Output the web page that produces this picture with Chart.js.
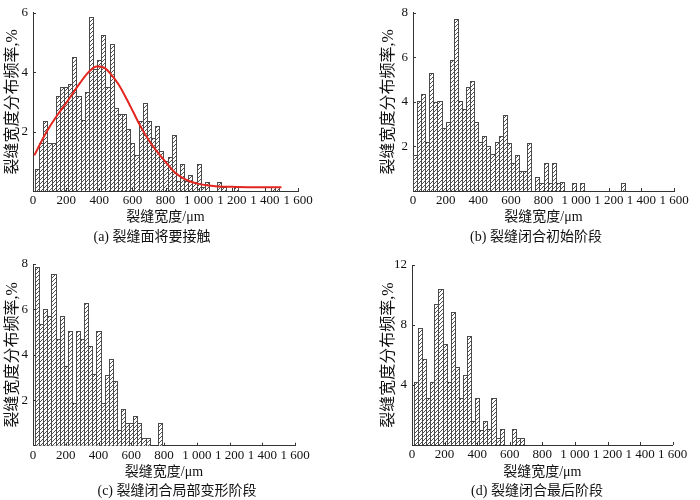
<!DOCTYPE html>
<html>
<head>
<meta charset="utf-8">
<script src="https://cdn.jsdelivr.net/npm/chart.js@4.4.1/dist/chart.umd.min.js"></script>
<style>
  body { margin: 0; background: #fff; }
  #wrap { position: relative; width: 700px; height: 500px; }
  canvas { position: absolute; }
</style>
</head>
<body>
<div id="wrap">
  <canvas id="chartA" width="350" height="250" style="left:0;top:0"></canvas>
  <canvas id="chartB" width="350" height="250" style="left:350px;top:0"></canvas>
  <canvas id="chartC" width="350" height="250" style="left:0;top:250px"></canvas>
  <canvas id="chartD" width="350" height="250" style="left:350px;top:250px"></canvas>
</div>
<script>
// histogram bins are 25 µm wide
const binWidth = 25;

// (a) 裂缝面将要接触, first bin centred at 25 µm
const firstBinA = 25;
const freqA = [0.75, 1.6, 2.35, 1.6, 1.6, 3.2, 3.5, 3.5, 3.6, 4.5,
               3.2, 2.4, 3.35, 5.85, 4.1, 4.4, 5.25, 3.5, 4.95, 2.8,
               2.6, 2.6, 2.1, 1.6, 1.2, 2.35, 2.95, 2.35, 1.8, 2.2,
               1.35, 1.0, 1.15, 1.9, 0.35, 0.9, 0.35, 0.55, 0.3, 0.9,
               0.15, 0.3, 0, 0, 0.3, 0.15, 0, 0, 0.15, 0,
               0, 0, 0, 0, 0, 0, 0, 0.15, 0.15];
// red fitted curve of (a)
const fitX = [8, 83, 140, 203, 284, 335, 385, 430, 465, 515, 566, 606, 646,
              700, 747, 800, 857, 900, 950, 1000, 1050, 1100, 1200, 1300, 1400, 1500];
const fitY = [1.2, 2.0, 2.5, 2.98, 3.64, 4.0, 4.19, 4.15, 3.97, 3.6, 3.09, 2.65, 2.21,
              1.7, 1.34, 0.98, 0.62, 0.45, 0.32, 0.24, 0.19, 0.16, 0.14, 0.13, 0.13, 0.13];

// (b) 裂缝闭合初始阶段
const firstBinB = 12.5;
const freqB = [1.6, 4.05, 4.35, 2.2, 5.3, 4.0, 4.05, 2.85, 3.1, 5.9,
               7.7, 4.05, 3.7, 4.65, 4.95, 3.1, 2.2, 2.45, 2.0, 1.65,
               2.2, 2.45, 3.4, 2.15, 1.25, 1.6, 0.9, 0.9, 2.15, 0,
               0.65, 0.35, 1.25, 0.35, 1.25, 0.35, 0.4, 0, 0, 0.35,
               0, 0.35, 0, 0, 0, 0, 0, 0, 0, 0,
               0, 0.35];

// (c) 裂缝闭合局部变形阶段
const firstBinC = 25;
const freqC = [7.85, 5.35, 6.0, 5.7, 7.55, 4.7, 5.7, 3.5, 5.05, 1.9,
               5.05, 4.7, 6.3, 4.4, 3.15, 5.05, 1.9, 3.1, 3.8, 2.85,
               0.67, 1.6, 1.0, 1.0, 1.3, 1.0, 0.35, 0.35, 0, 0,
               1.0];

// (d) 裂缝闭合最后阶段
const firstBinD = 25;
const freqD = [4.2, 7.8, 5.7, 3.15, 4.2, 9.4, 10.4, 6.75, 4.2, 8.85,
               5.2, 3.15, 4.7, 7.25, 1.6, 3.15, 1.0, 1.6, 1.05, 3.15,
               0.5, 1.05, 0, 0, 1.05, 0.5, 0.5];

const xTitle = '裂缝宽度/μm';
const yTitle = '裂缝宽度分布频率,%';

const serif = "'Liberation Serif', 'Noto Sans CJK SC', serif";
const ink = '#111';

// diagonal hatch used to fill the bars
const hatch = (function () {
  const c = document.createElement('canvas');
  c.width = 4; c.height = 4;
  const g = c.getContext('2d');
  g.fillStyle = '#fff';
  g.fillRect(0, 0, 4, 4);
  g.strokeStyle = '#3c3c3c';
  g.lineWidth = 0.9;
  g.beginPath();
  g.moveTo(-1, 5); g.lineTo(5, -1);
  g.moveTo(-1, 1); g.lineTo(1, -1);
  g.moveTo(3, 5); g.lineTo(5, 3);
  g.stroke();
  return g.createPattern(c, 'repeat');
})();

// "1 000" style tick labels
function formatTick(v) {
  if (v >= 1000) return Math.floor(v / 1000) + ' ' + String(v % 1000).padStart(3, '0');
  return String(v);
}

// put each bar on whole pixels so neighbours share one crisp edge
const snapBars = {
  id: 'snapBars',
  beforeDatasetsDraw(chart) {
    const xs = chart.scales.x;
    chart.getSortedVisibleDatasetMetas().forEach(meta => {
      if (meta.type !== 'bar') return;
      const pts = chart.data.datasets[meta.index].data;
      meta.data.forEach((bar, i) => {
        const l = Math.round(xs.getPixelForValue(pts[i].x - binWidth / 2));
        const r = Math.round(xs.getPixelForValue(pts[i].x + binWidth / 2)) + 1;
        bar.x = (l + r) / 2;
        bar.width = r - l;
        bar.y = Math.round(bar.y);
        bar.base = Math.round(bar.base);
      });
    });
  }
};

// little tick marks pointing into the plot
const innerTicks = {
  id: 'innerTicks',
  afterDraw(chart) {
    const {ctx, chartArea, scales} = chart;
    ctx.save();
    ctx.strokeStyle = '#333';
    ctx.lineWidth = 1;
    ctx.beginPath();
    scales.x.ticks.forEach(t => {
      if (t.value === 0) return;
      const px = Math.round(scales.x.getPixelForValue(t.value)) + 0.5;
      ctx.moveTo(px, chartArea.bottom);
      ctx.lineTo(px, chartArea.bottom - 3);
    });
    scales.y.ticks.forEach(t => {
      if (t.value === 0) return;
      const py = Math.round(scales.y.getPixelForValue(t.value)) + 0.5;
      ctx.moveTo(chartArea.left, py);
      ctx.lineTo(chartArea.left + 3, py);
    });
    ctx.stroke();
    ctx.restore();
  }
};

// sub-figure caption under each panel
const caption = {
  id: 'caption',
  afterDraw(chart, args, opts) {
    const ctx = chart.ctx;
    ctx.save();
    ctx.font = '14px ' + serif;
    ctx.fillStyle = ink;
    ctx.textAlign = 'center';
    ctx.textBaseline = 'middle';
    ctx.fillText(opts.text, opts.x, opts.y);
    ctx.restore();
  }
};

function makePanel(id, cfg) {
  const datasets = [{
    type: 'bar',
    data: cfg.freq.map((v, i) => ({x: cfg.firstBin + i * binWidth, y: v})),
    backgroundColor: hatch,
    borderColor: '#4a4a4a',
    borderWidth: 1,
    inflateAmount: 0,
    barPercentage: 1.24,
    categoryPercentage: 1,
    order: 2
  }];
  if (cfg.fitX) {
    datasets.push({
      type: 'line',
      data: cfg.fitX.map((x, i) => ({x: x, y: cfg.fitY[i]})),
      borderColor: '#e3261f',
      borderWidth: 2,
      pointRadius: 0,
      tension: 0.4,
      cubicInterpolationMode: 'monotone',
      order: 1
    });
  }

  return new Chart(document.getElementById(id), {
    type: 'bar',
    data: {datasets: datasets},
    plugins: [snapBars, innerTicks, caption],
    options: {
      responsive: false,
      animation: false,
      events: [],
      layout: {padding: cfg.padding},
      plugins: {
        legend: {display: false},
        tooltip: {enabled: false},
        caption: {text: cfg.caption, x: cfg.capX, y: cfg.capY}
      },
      scales: {
        x: {
          type: 'linear',
          min: 0, max: 1600,
          offset: false,
          grid: {display: false, drawTicks: false, offset: false},
          border: {display: true, color: '#333', width: 1},
          ticks: {stepSize: 200, autoSkip: false, maxRotation: 0, padding: cfg.tickPad,
                  color: ink, font: {family: serif, size: 13}, callback: formatTick},
          title: {display: true, text: xTitle, color: ink, font: {family: serif, size: 14},
                  padding: {top: 0, bottom: cfg.xTitlePad}},
          afterFit(s) { s.height = cfg.xHeight; }
        },
        y: {
          min: 0, max: cfg.yMax,
          grid: {display: false, drawTicks: false},
          border: {display: true, color: '#333', width: 1},
          ticks: {stepSize: cfg.yStep, padding: 5, color: ink, font: {family: serif, size: 13},
                  callback: v => (v === 0 ? '' : v)},
          title: {display: true, text: yTitle, color: ink, font: {family: serif, size: 16},
                  padding: {top: 2.8, bottom: 0}},
          afterFit(s) { s.width = cfg.yWidth; }
        }
      }
    }
  });
}

makePanel('chartA', {
  freq: freqA, firstBin: firstBinA, fitX: fitX, fitY: fitY,
  yMax: 6, yStep: 2, yWidth: 33, xHeight: 38, tickPad: 2, xTitlePad: 3.3,
  padding: {left: 0, right: 52, top: 8, bottom: 21},
  caption: '(a) 裂缝面将要接触', capX: 152, capY: 237
});

makePanel('chartB', {
  freq: freqB, firstBin: firstBinB,
  yMax: 8, yStep: 2, yWidth: 37, xHeight: 38, tickPad: 2, xTitlePad: 3.3,
  padding: {left: 26, right: 26, top: 10, bottom: 21},
  caption: '(b) 裂缝闭合初始阶段', capX: 186, capY: 237
});

makePanel('chartC', {
  freq: freqC, firstBin: firstBinC,
  yMax: 8, yStep: 2, yWidth: 33, xHeight: 38, tickPad: 2, xTitlePad: 2.6,
  padding: {left: 0, right: 55, top: 14, bottom: 16.3},
  caption: '(c) 裂缝闭合局部变形阶段', capX: 177, capY: 241.7
});

makePanel('chartD', {
  freq: freqD, firstBin: firstBinD,
  yMax: 12, yStep: 4, yWidth: 36, xHeight: 38, tickPad: 2, xTitlePad: 2.1,
  padding: {left: 26, right: 27.3, top: 15, bottom: 17},
  caption: '(d) 裂缝闭合最后阶段', capX: 187, capY: 241.5
});
</script>
</body>
</html>
